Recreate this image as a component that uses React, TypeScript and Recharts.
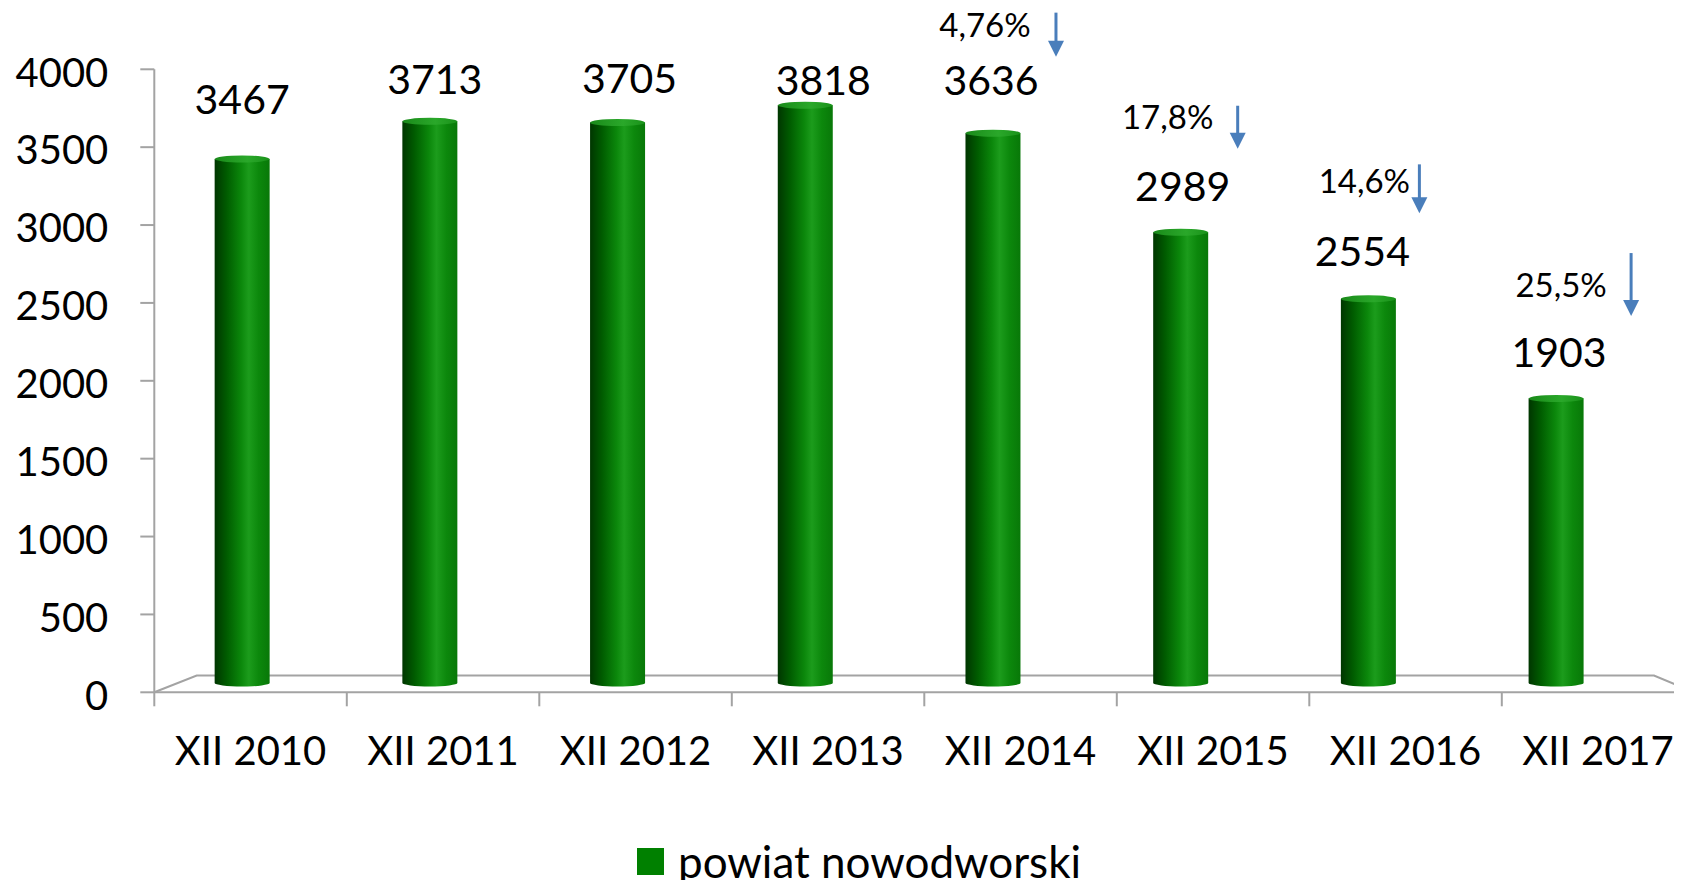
import React from "react";
import { BarChart, Bar, XAxis, YAxis, LabelList } from "recharts";

const periods = ["XII 2010", "XII 2011", "XII 2012", "XII 2013", "XII 2014", "XII 2015", "XII 2016", "XII 2017"];
const unemployed = [3467, 3713, 3705, 3818, 3636, 2989, 2554, 1903];
const declines = ["", "", "", "", "4,76%", "17,8%", "14,6%", "25,5%"];
const yTicks = [0, 500, 1000, 1500, 2000, 2500, 3000, 3500, 4000];
const seriesName = "powiat nowodworski";

// the value labels were placed by hand in the original, so each gets a nudge
const labelDx = [0, 5, 12, 18, -2, 2, -6, 3];
const labelDy = [-42, -24, -26, -7, -35, -28, -29, -28];

// text / arrow placement for the decline notes, relative to bar top
const noteLayout = [
  null,
  null,
  null,
  null,
  { tx: -8, ty: -93, ax: 63, a0: -117, a1: -73 },
  { tx: -13, ty: -100, ax: 57, a0: -123, a1: -80 },
  { tx: -4, ty: -102, ax: 51, a0: -131, a1: -82 },
  { tx: 5, ty: -98, ax: 75, a0: -142, a1: -79 },
];

const data = periods.map((period, i) => ({
  period,
  value: unemployed[i],
  decline: declines[i],
}));

const FONT = "Lato, 'Open Sans', sans-serif";
const GREY = "#a3a3a3";
const ARROW = "#4a7ebb";

const Cylinder = (props: any) => {
  const { x, y, width, height, index } = props;
  if (!height || height <= 0) return null;
  const ry = 3.5;
  const rx = width / 2;
  const id = `cyl-${index}`;
  const bottom = y + height;
  return (
    <g>
      <defs>
        <linearGradient id={id} x1="0" y1="0" x2="1" y2="0">
          <stop offset="0%" stopColor="#003600" />
          <stop offset="22%" stopColor="#005c00" />
          <stop offset="48%" stopColor="#0b870b" />
          <stop offset="62%" stopColor="#1c9c1c" />
          <stop offset="80%" stopColor="#0c880c" />
          <stop offset="100%" stopColor="#087808" />
        </linearGradient>
        <linearGradient id={`${id}-top`} x1="0" y1="0" x2="1" y2="0">
          <stop offset="0%" stopColor="#1a8a1a" />
          <stop offset="60%" stopColor="#2aa82a" />
          <stop offset="100%" stopColor="#1a921a" />
        </linearGradient>
      </defs>
      <path
        d={`M${x},${y + ry} L${x},${bottom - ry} A${rx},${ry} 0 0 0 ${x + width},${bottom - ry} L${x + width},${y + ry} Z`}
        fill={`url(#${id})`}
      />
      <ellipse cx={x + rx} cy={y + ry} rx={rx} ry={ry} fill={`url(#${id}-top)`} />
    </g>
  );
};

const renderLabel = (props: any) => {
  const { x, y, width, value, index } = props;
  const cx = x + width / 2;
  const note = noteLayout[index];
  return (
    <g fontFamily={FONT}>
      <text x={cx + labelDx[index]} y={y + labelDy[index]} textAnchor="middle" fontSize={41} fill="#000">
        {value}
      </text>
      {note && (
        <g>
          <text x={cx + note.tx} y={y + note.ty} textAnchor="middle" fontSize={33} fill="#000">
            {declines[index]}
          </text>
          <line x1={cx + note.ax} y1={y + note.a0} x2={cx + note.ax} y2={y + note.a1 - 12} stroke={ARROW} strokeWidth={3} />
          <polygon
            points={`${cx + note.ax - 8},${y + note.a1 - 16} ${cx + note.ax + 8},${y + note.a1 - 16} ${cx + note.ax},${y + note.a1}`}
            fill={ARROW}
          />
        </g>
      )}
    </g>
  );
};

const YTick = (props: any) => {
  const { x, y, payload } = props;
  return (
    <text x={x} y={y + 3} dy="0.355em" textAnchor="end" fontSize={40} fontFamily={FONT} fill="#000">
      {payload.value}
    </text>
  );
};

const XTick = (props: any) => {
  const { x, y, payload } = props;
  const half = payload.offset ?? 96.2;
  return (
    <g>
      <line x1={x - half} y1={y} x2={x - half} y2={y + 14} stroke={GREY} strokeWidth={2} />
      <text x={x} y={y + 73} textAnchor="middle" fontSize={40} fontFamily={FONT} fill="#000">
        {payload.value}
      </text>
    </g>
  );
};

// 3D floor of the original chart: back edge plus the two slanted sides
const Floor = () => (
  <svg width={1682} height={888} style={{ position: "absolute", left: 0, top: 0 }}>
    <polyline
      points="154.3,692.3 196.7,675.5 1654,675.5 1694.3,692.3"
      fill="none"
      stroke={GREY}
      strokeWidth={2}
    />
  </svg>
);

export default function App() {
  return (
    <div
      style={{
        position: "relative",
        width: 1682,
        height: 888,
        margin: -8,
        overflow: "hidden",
        background: "#fff",
        fontFamily: FONT,
      }}
    >
      <Floor />
      <div style={{ position: "absolute", left: 0, top: 0 }}>
        <BarChart
          width={1700}
          height={888}
          data={data}
          margin={{ top: 69.3, right: 5.7, bottom: 95.7, left: 0 }}
        >
          <XAxis xAxisId="back" dataKey="period" hide height={0} padding={{ left: -5.65, right: 44 }} />
          <YAxis yAxisId="back" type="number" domain={[0, 4000]} hide width={0} padding={{ top: 4.6, bottom: 5.8 }} />
          <XAxis
            xAxisId="front"
            dataKey="period"
            height={100}
            axisLine={{ stroke: GREY, strokeWidth: 2 }}
            tickLine={false}
            tickSize={0}
            tickMargin={0}
            tick={<XTick />}
            interval={0}
          />
          <YAxis
            yAxisId="front"
            type="number"
            domain={[0, 4000]}
            allowDataOverflow
            ticks={yTicks}
            width={154.3}
            axisLine={{ stroke: GREY, strokeWidth: 2 }}
            tickLine={{ stroke: GREY, strokeWidth: 2 }}
            tickSize={14}
            tickMargin={32}
            tick={<YTick />}
            interval={0}
          />
          <Bar
            dataKey="value"
            name={seriesName}
            xAxisId="back"
            yAxisId="back"
            barSize={55}
            fill="#008000"
            shape={<Cylinder />}
            isAnimationActive={false}
          >
            <LabelList dataKey="value" content={renderLabel} />
          </Bar>
        </BarChart>
      </div>
      <div
        style={{
          position: "absolute",
          left: 637,
          top: 834,
          display: "flex",
          alignItems: "center",
          fontSize: 44,
          lineHeight: "54px",
          color: "#000",
          whiteSpace: "nowrap",
        }}
      >
        <span style={{ display: "inline-block", width: 27, height: 27, background: "#008000", marginRight: 14 }} />
        <span>{seriesName}</span>
      </div>
    </div>
  );
}
